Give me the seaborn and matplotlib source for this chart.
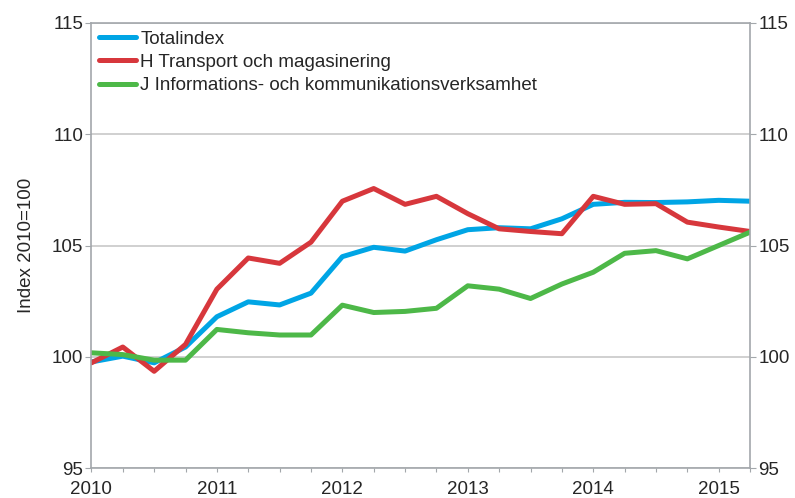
import matplotlib
matplotlib.use("Agg")
import matplotlib.pyplot as plt
import pandas as pd
import seaborn as sns

# Quarterly index values, 2010Q1 - 2015Q2 #

quarters = list(range(22))

year_labels = ["2010", "2011", "2012", "2013", "2014", "2015"]

totalindex = [99.77, 100.03, 99.73, 100.44, 101.8, 102.47, 102.33, 102.86, 104.5, 104.92, 104.75,
              105.26, 105.71, 105.8, 105.75, 106.2, 106.85, 106.94, 106.93, 106.96, 107.03, 106.99]

transport = [99.73, 100.44, 99.35, 100.56, 103.04, 104.44, 104.2, 105.15, 106.99, 107.56, 106.85,
             107.21, 106.43, 105.75, 105.63, 105.53, 107.21, 106.85, 106.88, 106.05, 105.83, 105.63]

information = [100.18, 100.1, 99.85, 99.85, 101.23, 101.08, 100.98, 100.98, 102.32, 101.99, 102.04,
               102.18, 103.19, 103.04, 102.62, 103.27, 103.8, 104.65, 104.77, 104.4, 105.0, 105.6]

series_names = ["Totalindex", "H Transport och magasinering", "J Informations- och kommunikationsverksamhet"]

colors = ["#00A5E5", "#D7373C", "#4DB848"]

# Long format dataframe for seaborn #

df = pd.DataFrame({
    "quarter": quarters * 3,
    "value": totalindex + transport + information,
    "series": [series_names[0]] * 22 + [series_names[1]] * 22 + [series_names[2]] * 22,
})

sns.set_style("white")
plt.rcParams['font.family'] = ['Liberation Sans', 'DejaVu Sans']

fig = plt.figure(figsize=(7.95, 4.98), dpi=100)
ax = fig.add_axes([0.115, 0.06, 0.8285, 0.894])

sns.lineplot(data=df, x="quarter", y="value", hue="series", hue_order=series_names,
             palette=colors, linewidth=3.6, ax=ax, legend=True)

grey = "#A3A7AB"

ax.set_xlim(0, 21)
ax.set_ylim(95, 115)
ax.set_yticks([95, 100, 105, 110, 115])
ax.set_xticks(quarters)
ax.set_xticklabels([year_labels[q // 4] if q % 4 == 0 else "" for q in quarters])
ax.yaxis.grid(True, color="#C8C8C8", linewidth=1.2)
ax.set_axisbelow(True)

for side in ["left", "right", "top", "bottom"]:
    ax.spines[side].set_color(grey)
    ax.spines[side].set_linewidth(1.2)

ax.tick_params(axis="y", which="both", left=True, right=True, labelright=True, length=4,
               color=grey, labelsize=13.5, pad=2)
ax.tick_params(axis="x", bottom=True, length=3, color=grey, labelsize=13.5, pad=6.5)

ax.set_xlabel("")
ax.set_ylabel("Index 2010=100", fontsize=13.5, labelpad=12)

leg = ax.legend(loc="upper left", frameon=False, fontsize=13.5, handlelength=2.0,
                handletextpad=0.2, labelspacing=0.33, borderaxespad=0.1, borderpad=0.3)
for line in leg.get_lines():
    line.set_linewidth(3.6)

plt.savefig("out.png", dpi=100)
